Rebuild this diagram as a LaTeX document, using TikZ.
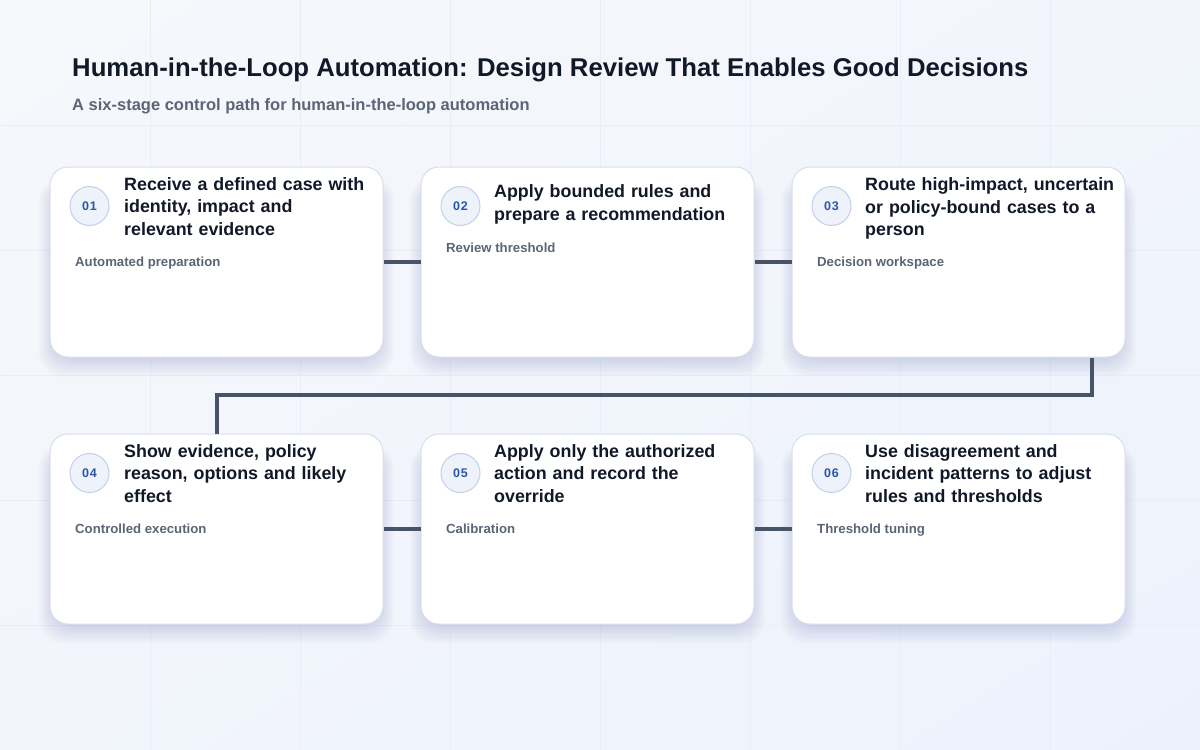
\documentclass[tikz,border=0pt]{standalone}
\usepackage{fontspec}
\setmainfont{Liberation Sans}
\usetikzlibrary{shadings}
\definecolor{bgA}{HTML}{F7F8FC}
\definecolor{bgB}{HTML}{F2F5FC}
\definecolor{bgC}{HTML}{ECF2FC}
\definecolor{gridc}{HTML}{E9EDF5}
\definecolor{cardline}{HTML}{D8DEE9}
\definecolor{connc}{HTML}{475467}
\definecolor{ink}{HTML}{111827}
\definecolor{subc}{HTML}{5B6576}
\definecolor{numfill}{HTML}{EDF2FB}
\definecolor{numline}{HTML}{C3D0EA}
\definecolor{numblue}{HTML}{2D55A5}
\definecolor{shadowc}{HTML}{7483A3}
\newcommand\cardshadow[2]{%
  \foreach \i in {1,...,20}{%
    \fill[shadowc, opacity=0.011, rounded corners=24pt]
      ({#1-160-\i*0.9},{#2-85-\i*0.4+8}) rectangle ({#1+160+\i*0.9},{#2+85+\i*1.1+8});
  }%
}
\tikzset{
  card/.style={draw=cardline, line width=1pt, fill=white, rounded corners=18pt,
    minimum width=333pt, minimum height=190pt, inner sep=0pt},
  numc/.style={circle, draw=numline, line width=1pt, fill=numfill, minimum size=39pt, inner sep=0pt,
    text=numblue, font=\fontsize{12.5}{14}\selectfont\bfseries\addfontfeatures{LetterSpace=6}},
  ttl/.style={anchor=base west, text width=275pt, align=left, inner sep=0pt, text=ink,
    font=\fontsize{17.85}{22.5}\selectfont\bfseries},
  sublabel/.style={anchor=base west, inner sep=0pt, text=subc, font=\fontsize{13.2}{15}\selectfont\bfseries},
  conn/.style={draw=connc, line width=4pt},
  gridline/.style={draw=gridc, line width=0.8pt}
}
\begin{document}
\begin{tikzpicture}[x=1pt,y=-1pt]
\useasboundingbox (0,0) rectangle (1200,750);
\shade[upper left=bgA, upper right=bgB, lower left=bgB, lower right=bgC] (0,0) rectangle (1200,750);
\foreach \x in {150,300,...,1050} \draw[gridline] (\x,0) -- (\x,750);
\foreach \y in {125,250,...,625} \draw[gridline] (0,\y) -- (1200,\y);

% header
\node[anchor=base west, inner sep=0pt, text=ink, font=\fontsize{25.7}{30}\selectfont\bfseries] (head) at (72,76)
  {Human-in-the-Loop Automation: Design Review That Enables Good Decisions};
\node[anchor=base west, inner sep=0pt, text=subc, font=\fontsize{16.5}{19}\selectfont\bfseries] (subhead) at (72,110)
  {A six-stage control path for human-in-the-loop automation};

% shadows
\cardshadow{216.5}{262}
\cardshadow{587.5}{262}
\cardshadow{958.5}{262}
\cardshadow{216.5}{529}
\cardshadow{587.5}{529}
\cardshadow{958.5}{529}

% connector bends
\coordinate (k1) at (1091.5,395);
\coordinate (k2) at (216.5,395);

% cards
\node[card] (c1) at (216.5,262) {};
\node[card] (c2) at (587.5,262) {};
\node[card] (c3) at (958.5,262) {};
\node[card] (c4) at (216.5,529) {};
\node[card] (c5) at (587.5,529) {};
\node[card] (c6) at (958.5,529) {};

\draw[conn] (c1.east) -- (c2.west);
\draw[conn] (c2.east) -- (c3.west);
\draw[conn] (c3.south -| k1) -- (k1) -- (k2) -- (c4.north);
\draw[conn] (c4.east) -- (c5.west);
\draw[conn] (c5.east) -- (c6.west);

% card contents
\node[numc] (n1) at (89.5,206) {01};
\node[ttl] (t1) at (124,190) {Receive a defined case with\\identity, impact and\\relevant evidence};
\node[sublabel] (s1) at (75,266) {Automated preparation};

\node[numc] (n2) at (460.5,206) {02};
\node[ttl] (t2) at (494,197.5) {Apply bounded rules and\\prepare a recommendation};
\node[sublabel] (s2) at (446,252) {Review threshold};

\node[numc] (n3) at (831.5,206) {03};
\node[ttl] (t3) at (865,190.5) {Route high-impact, uncertain\\or policy-bound cases to a\\person};
\node[sublabel] (s3) at (817,266) {Decision workspace};

\node[numc] (n4) at (89.5,473) {04};
\node[ttl] (t4) at (124,457) {Show evidence, policy\\reason, options and likely\\effect};
\node[sublabel] (s4) at (75,533) {Controlled execution};

\node[numc] (n5) at (460.5,473) {05};
\node[ttl] (t5) at (494,457) {Apply only the authorized\\action and record the\\override};
\node[sublabel] (s5) at (446,533) {Calibration};

\node[numc] (n6) at (831.5,473) {06};
\node[ttl] (t6) at (865,457) {Use disagreement and\\incident patterns to adjust\\rules and thresholds};
\node[sublabel] (s6) at (817,533) {Threshold tuning};
\end{tikzpicture}
\end{document}
